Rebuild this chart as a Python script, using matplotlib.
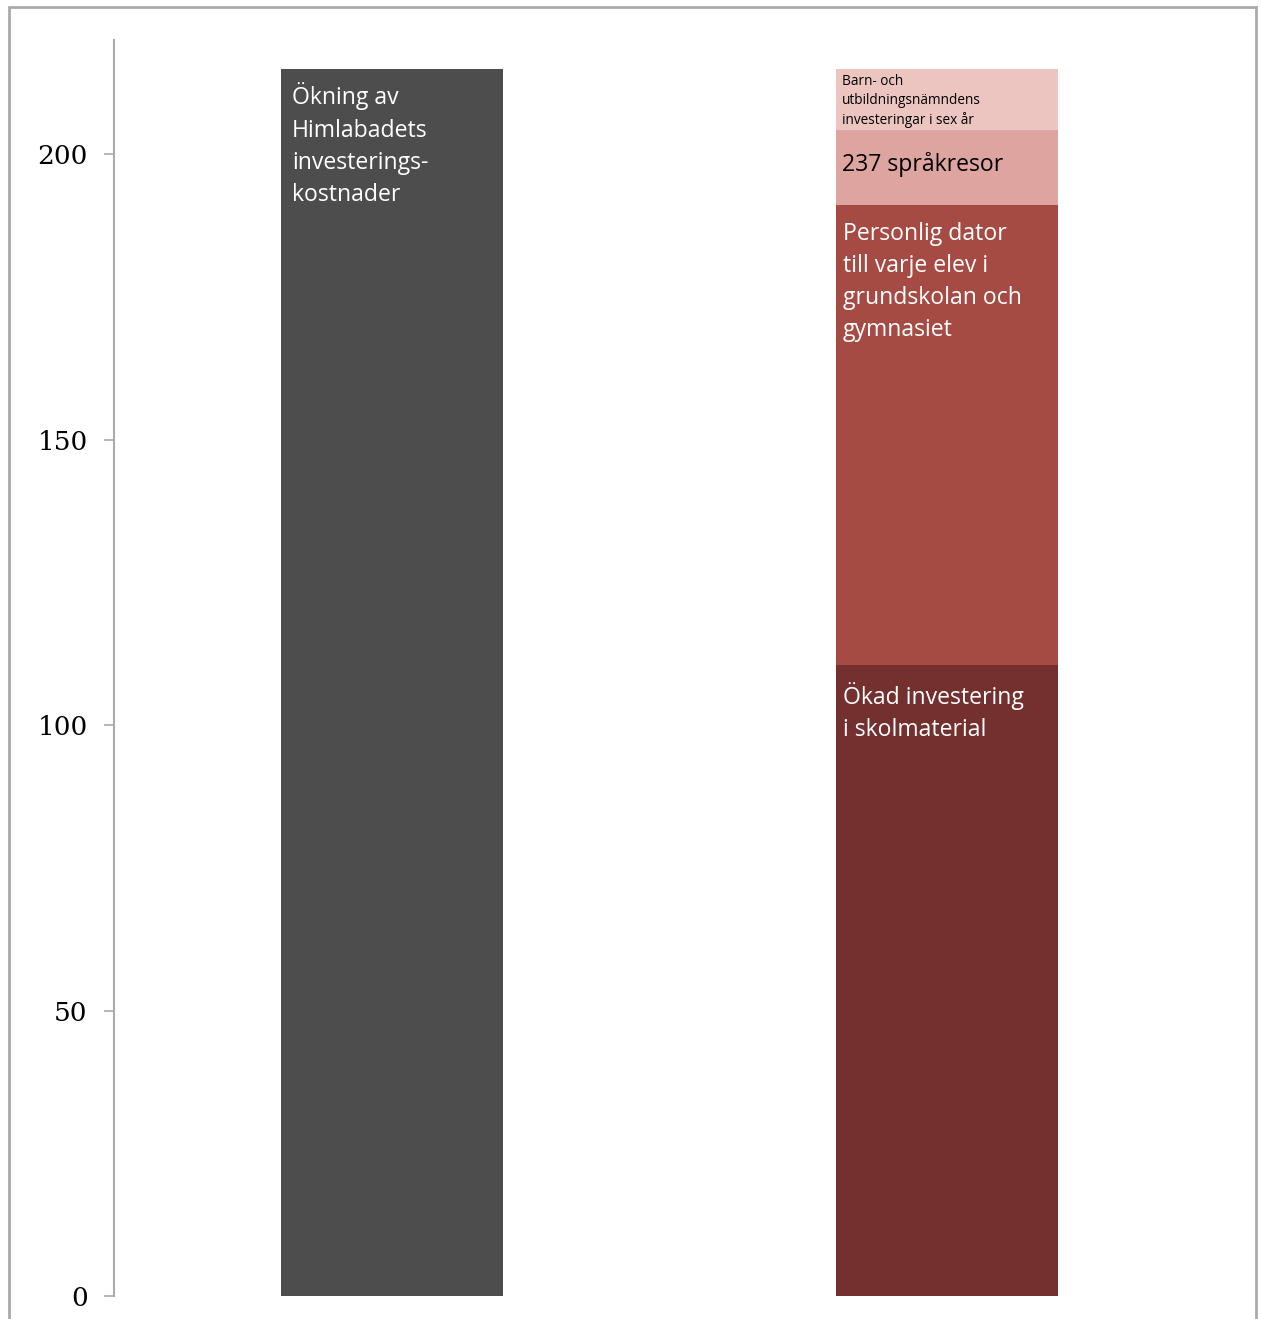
import matplotlib
matplotlib.use("Agg")
import matplotlib.pyplot as plt
from matplotlib.patches import Rectangle

W, H = 1262, 1319

# data
stapel_x    = [0, 1]
himla       = [215.0]
seg_namn    = ["Ökad investering\ni skolmaterial",
               "Personlig dator\ntill varje elev i\ngrundskolan och\ngymnasiet",
               "237 språkresor",
               "Barn- och\nutbildningsnämndens\ninvesteringar i sex år"]
seg_varden  = [110.5, 80.6, 13.1, 10.8]
seg_farger  = ["#74302e", "#a54b43", "#dea5a0", "#ecc5c1"]
yticks      = [0, 50, 100, 150, 200]

BW = 0.4
SANS = ["Open Sans", "DejaVu Sans"]
FS = 16.6
LS = 1.46

fig = plt.figure(figsize=(W / 100, H / 100), dpi=100)
ax = fig.add_axes([114 / W, (H - 1296) / H, (1225 - 114) / W, (1296 - 40) / H])

# left bar
ax.bar(stapel_x[0], himla[0], width=BW, color="#4d4d4d", zorder=2)
ax.annotate("Ökning av\nHimlabadets\ninvesterings-\nkostnader",
            xy=(stapel_x[0] - BW / 2, himla[0]), xytext=(8, -10),
            textcoords="offset points", ha="left", va="top",
            color="white", fontsize=FS, family=SANS, linespacing=LS)

# stacked right bar
bas = 0
for i, (v, c, namn) in enumerate(zip(seg_varden, seg_farger, seg_namn)):
    ax.bar(stapel_x[1], v, bottom=bas, width=BW, color=c, zorder=2)
    topp = bas + v
    if i == 3:
        ax.annotate(namn, xy=(stapel_x[1] - BW / 2, topp), xytext=(4, -4),
                    textcoords="offset points", ha="left", va="top",
                    color="black", fontsize=9.8, family=SANS, linespacing=1.34)
    elif i == 2:
        ax.annotate(namn, xy=(stapel_x[1] - BW / 2, bas + v / 2), xytext=(4, 2),
                    textcoords="offset points", ha="left", va="center",
                    color="black", fontsize=FS, family=SANS)
    else:
        ax.annotate(namn, xy=(stapel_x[1] - BW / 2, topp), xytext=(5, -12),
                    textcoords="offset points", ha="left", va="top",
                    color="white", fontsize=FS, family=SANS, linespacing=LS)
    bas = topp

ax.set_xlim(-0.5, 1.5)
ax.set_ylim(0, 220)
ax.set_xticks([])
ax.set_yticks(yticks)
ax.set_yticklabels([str(t) for t in yticks], family=["DejaVu Serif"],
                   fontsize=19)
ax.tick_params(axis="y", length=7, width=1.2, color="#aaaaaa", pad=12)
for s in ["top", "right", "bottom"]:
    ax.spines[s].set_visible(False)
ax.spines["left"].set_color("#aaaaaa")
ax.spines["left"].set_linewidth(1.5)

# outer frame
fig.add_artist(Rectangle((9 / W, -0.05), (1256 - 9) / W, (H - 7) / H + 0.05,
                         transform=fig.transFigure, fill=False,
                         edgecolor="#aaaaaa", linewidth=2))

fig.savefig("out.png", dpi=100)
